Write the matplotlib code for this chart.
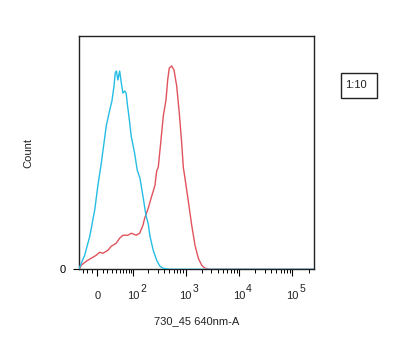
import numpy as np
import matplotlib.pyplot as plt
import matplotlib.transforms as mtransforms
from matplotlib.patches import Rectangle

plt.rcParams['font.family'] = ['Liberation Sans', 'DejaVu Sans']

# histogram traces (fluorescence value, count)
blue_x = [-39, -26, -15, -5, 1, 7, 11, 17.5, 25, 30,
          35, 38, 41, 45, 50, 55, 60, 66, 71, 75,
          85, 91, 107, 121, 137, 159, 179, 199, 214, 247,
          287, 331, 382, 511, 2.6e5]
blue_count = [1, 14, 33, 60, 84, 104, 119, 143, 159, 168,
              183, 196, 198, 189, 198, 186, 176, 178, 176, 166,
              146, 133, 116, 99, 91, 71, 54, 45, 33, 19,
              9, 3, 1, 0, 0]

red_x = [-39, -34, -22.6, -12.2, -2.3, 4.3, 10.8, 21.1, 28.4, 40.6,
         49.9, 60, 77.7, 91.3, 115.6, 135.1, 156.8, 169.1, 195.8, 230.5,
         247.3, 266.4, 286.9, 307.6, 341.5, 382.4, 429.8, 462.7, 495.9, 550.1,
         607.6, 682.8, 763.9, 847.4, 908.1, 1020, 1127, 1304, 1504, 1734,
         2008, 2315, 2871, 2.6e5]
red_count = [0, 4, 8, 11, 14, 17, 16, 19, 23, 26,
             31, 34, 34, 36, 34, 36, 44, 51, 60, 73,
             78, 84, 98, 102, 126, 153, 169, 189, 201, 203,
             199, 183, 156, 126, 102, 84, 68, 44, 24, 11,
             4, 1, 0, 0]

# axis ticks: label base and exponent (None for the zero tick)
major_ticks = [0, 1e2, 1e3, 1e4, 1e5]
major_base = ['0', '10', '10', '10', '10']
major_exp = [None, '2', '3', '4', '5']
minor_ticks = ([-30, -20, -10] + list(range(10, 100, 10))
               + [m * 10 ** e for e in (2, 3, 4) for m in range(2, 10)]
               + [2e5])

fig = plt.figure(figsize=(4, 3.5), dpi=100)
ax = fig.add_axes([0.198, 0.2306, 0.588, 0.6667])

ax.plot(red_x, red_count, color='#e0535c', lw=1.0, zorder=3)
ax.plot(blue_x, blue_count, color='#25bde3', lw=1.0, zorder=3)

# biexponential-like display
ax.set_xscale('asinh', linear_width=45)
ax.set_xlim(-39, 2.57e5)
ax.set_ylim(0, 233)

ax.set_xticks(major_ticks)
ax.set_xticks(minor_ticks, minor=True)
ax.tick_params(axis='x', which='major', direction='out', length=5, width=0.8,
               labelbottom=False)
ax.tick_params(axis='x', which='minor', direction='out', length=3, width=0.7)
ax.set_yticks([0])
ax.set_yticklabels(['0'])
ax.tick_params(axis='y', direction='out', length=4, width=0.8, pad=6, labelsize=8)

for sp in ax.spines.values():
    sp.set_linewidth(1.0)
    sp.set_color('#222222')

# tick labels on a common baseline, exponent drawn as its own raised text
xtrans = ax.get_xaxis_transform()
for val, base, exp in zip(major_ticks, major_base, major_exp):
    ax.text(val, -0.128, base, transform=xtrans,
            ha='center', va='baseline', fontsize=8, color='#222222')
    if exp:
        sup = mtransforms.offset_copy(xtrans, fig=fig, x=4.9, y=5.2, units='points')
        ax.text(val, -0.128, exp, transform=sup,
                ha='left', va='baseline', fontsize=7.5, color='#222222')

ax.text(0.5, -0.222, '730_45 640nm-A', transform=ax.transAxes,
        ha='center', va='center', fontsize=8, color='#222222')
ax.text(-0.214, 0.5, 'Count', transform=ax.transAxes, rotation=90,
        ha='center', va='center', fontsize=8, color='#222222')

# sample tag box
fig.patches.append(Rectangle((0.8525, 0.72), 0.09, 0.0714, transform=fig.transFigure,
                             fill=False, edgecolor='#222222', lw=1.0))
fig.text(0.862, 0.757, '1:10', ha='left', va='center', fontsize=8, color='#222222')

fig.savefig('out.png', dpi=100)
